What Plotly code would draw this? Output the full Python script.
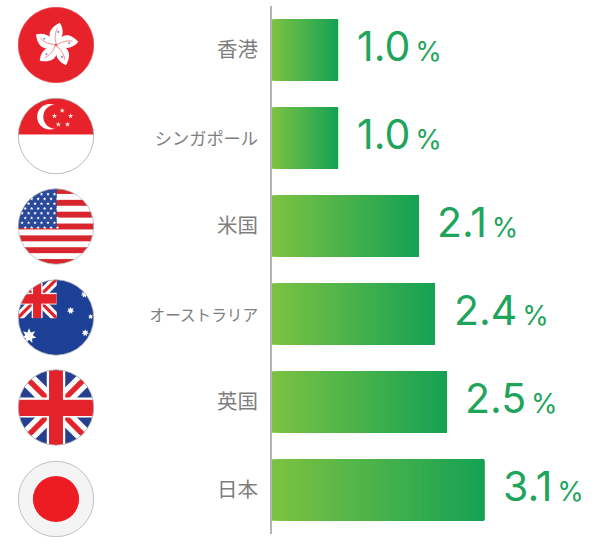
import base64, math
import plotly.graph_objects as go

# ---- data ----
categories = ["香港", "シンガポール", "米国", "オーストラリア", "英国", "日本"]
value_labels = ["1.0", "1.0", "2.1", "2.4", "2.5", "3.1"]
bar_lengths = [0.965, 0.965, 2.14, 2.38, 2.55, 3.10]   # as drawn in the picture
label_sizes = [20.5, 17.2, 20.5, 15.6, 20.5, 20.5]

GREY = "#7e7e7e"
GREEN_TXT = "#1fa45c"
C0 = (124, 194, 66)
C1 = (22, 162, 84)
N_STEPS = 48

# ---- page geometry ----
W, H = 600, 551
ML, MT, PW, PH = 272, 6, 328, 528

def star(cx, cy, r, fill="#fff", n=5, inner=0.42, rot=-90):
    pts = []
    for i in range(n * 2):
        a = math.radians(rot + i * 180 / n)
        rr = r if i % 2 == 0 else r * inner
        pts.append(f"{cx + rr * math.cos(a):.2f},{cy + rr * math.sin(a):.2f}")
    return f'<polygon points="{" ".join(pts)}" fill="{fill}"/>'

def wrap(inner, border="#b5b5b5"):
    s = ('<svg xmlns="http://www.w3.org/2000/svg" width="200" height="200" viewBox="0 0 100 100">'
         '<defs><clipPath id="c"><circle cx="50" cy="50" r="49"/></clipPath>'
         '<filter id="b" x="-5%" y="-5%" width="110%" height="110%"><feGaussianBlur stdDeviation="0.35"/></filter></defs>'
         f'<g filter="url(#b)"><g clip-path="url(#c)">{inner}</g>'
         f'<circle cx="50" cy="50" r="49" fill="none" stroke="{border}" stroke-width="1"/></g></svg>')
    return "data:image/svg+xml;base64," + base64.b64encode(s.encode()).decode()

def flag_hk():
    red = "#e8212b"
    petal = ('<path d="M50,49 C40,43 36,30 55,21 C61,31 60,40 50,49Z" fill="#fff"/>'
             f'<path d="M50,48 C48,40 49,34 52,28" stroke="{red}" stroke-width="0.6" fill="none"/>'
             '<circle cx="53" cy="33" r="1.4" fill="#9a8cc4"/>')
    g = "".join(f'<g transform="rotate({72 * i} 50 50)">{petal}</g>' for i in range(5))
    return wrap(f'<rect width="100" height="100" fill="{red}"/>{g}', "#e0444c")

def flag_sg():
    red = "#e8212b"
    inner = (f'<rect width="100" height="100" fill="#fff"/><rect width="100" height="48" fill="{red}"/>'
             f'<circle cx="42" cy="25" r="16.5" fill="#fff"/><circle cx="49" cy="25" r="15.5" fill="{red}"/>')
    for x, y in [(58, 17), (69, 24), (65, 35), (53, 35), (48, 24)]:
        inner += star(x, y, 3.6, "#fbe3d8")
    return wrap(inner, "#a8a8a8")

def flag_us():
    red, blue = "#d8262e", "#2c4a9a"
    inner = '<rect width="100" height="100" fill="#fff"/>'
    for i in range(0, 13, 2):
        inner += f'<rect y="{i * 100 / 13:.2f}" width="100" height="{100 / 13:.2f}" fill="{red}"/>'
    inner += f'<rect width="51" height="52" fill="{blue}"/>'
    for r in range(8):
        for c in range(6):
            inner += star(6 + c * 8.4 + (4 if r % 2 else 0), 8 + r * 6.2, 2.4)
    return wrap(inner)

def union(w, h, t=1.0):
    blue = "#26408f"; red = "#e4212c"
    return (f'<svg x="0" y="0" width="{w}" height="{h}" viewBox="0 0 100 100" preserveAspectRatio="none">'
            f'<rect width="100" height="100" fill="{blue}"/>'
            f'<path d="M0,0L100,100M100,0L0,100" stroke="#fff" stroke-width="{20 * t}"/>'
            f'<path d="M0,0L100,100M100,0L0,100" stroke="{red}" stroke-width="{7 * t}"/>'
            f'<rect x="{50 - 12 * t}" width="{24 * t}" height="100" fill="#fff"/>'
            f'<rect y="{50 - 13 * t}" width="100" height="{26 * t}" fill="#fff"/>'
            f'<rect x="{50 - 9 * t}" width="{18 * t}" height="100" fill="{red}"/>'
            f'<rect y="{50 - 10 * t}" width="100" height="{21 * t}" fill="{red}"/></svg>')

def flag_au():
    inner = '<rect width="100" height="100" fill="#1f4196"/>' + union(51, 51, 1.15)
    inner += star(15, 74, 10, n=7, inner=0.5)
    for x, y, r in [(69, 41, 5), (87, 20, 5), (95, 49, 3.5), (88, 70, 5)]:
        inner += star(x, y, r, n=7, inner=0.5)
    return wrap(inner)

def flag_uk():
    return wrap(union(100, 100))

def flag_jp():
    return wrap('<rect width="100" height="100" fill="#f4f4f4"/><circle cx="50" cy="50" r="30" fill="#ec1c24"/>', "#b0b0b0")

flag_sources = [flag_hk(), flag_sg(), flag_us(), flag_au(), flag_uk(), flag_jp()]
flag_centers_y = [45, 136, 226.5, 317.5, 407.5, 499]
FLAG_CX, FLAG_R = 56, 38.5

fig = go.Figure()

# gradient: successive overlapping bars, each starting a little further along
for k in range(N_STEPS):
    t = k / (N_STEPS - 1)
    col = "rgb(" + ",".join(str(round(a + (b - a) * t)) for a, b in zip(C0, C1)) + ")"
    f = k / N_STEPS
    fig.add_trace(go.Bar(
        y=categories, x=[v * (1 - f) for v in bar_lengths], base=[v * f for v in bar_lengths],
        orientation="h", width=0.7, marker=dict(color=col, line=dict(width=0)),
        hoverinfo="skip", showlegend=False))

annotations = [
    dict(x=v, y=c, xref="x", yref="y", xanchor="left", yanchor="middle", xshift=17, yshift=4,
         showarrow=False, align="left",
         text=f'{lab}<span style="font-size:27px">\u2009%</span>',
         font=dict(family="Inter, Lato, sans-serif", size=41, weight=400, color=GREEN_TXT))
    for c, v, lab in zip(categories, bar_lengths, value_labels)
]

images = [
    dict(source=src, xref="paper", yref="paper", layer="above",
         x=(FLAG_CX - FLAG_R - ML) / PW, y=1 - (cy - FLAG_R - MT) / PH,
         sizex=2 * FLAG_R / PW, sizey=2 * FLAG_R / PH,
         xanchor="left", yanchor="top", sizing="stretch")
    for src, cy in zip(flag_sources, flag_centers_y)
]

fig.update_layout(
    width=W, height=H, autosize=False,
    margin=dict(l=ML, r=W - ML - PW, t=MT, b=H - MT - PH, pad=0),
    paper_bgcolor="white", plot_bgcolor="white",
    barmode="overlay", showlegend=False,
    annotations=annotations, images=images,
    xaxis=dict(range=[0, PW / 68.4], visible=False, fixedrange=True),
    yaxis=dict(
        type="category", categoryorder="array", categoryarray=categories,
        autorange="reversed", showline=True, linecolor="#b4b4b4", linewidth=2,
        showgrid=False, zeroline=False, ticks="outside", ticklen=8, tickcolor="rgba(0,0,0,0)",
        tickmode="array", tickvals=categories,
        ticktext=[f'<span style="font-size:{s}px">{c}</span>' for c, s in zip(categories, label_sizes)],
        tickfont=dict(family="Noto Sans CJK JP", size=20, color=GREY), fixedrange=True),
)

fig.write_html("out.html", config={"displayModeBar": False},
               post_script="document.body.style.margin='0';document.documentElement.style.overflow='hidden';")
